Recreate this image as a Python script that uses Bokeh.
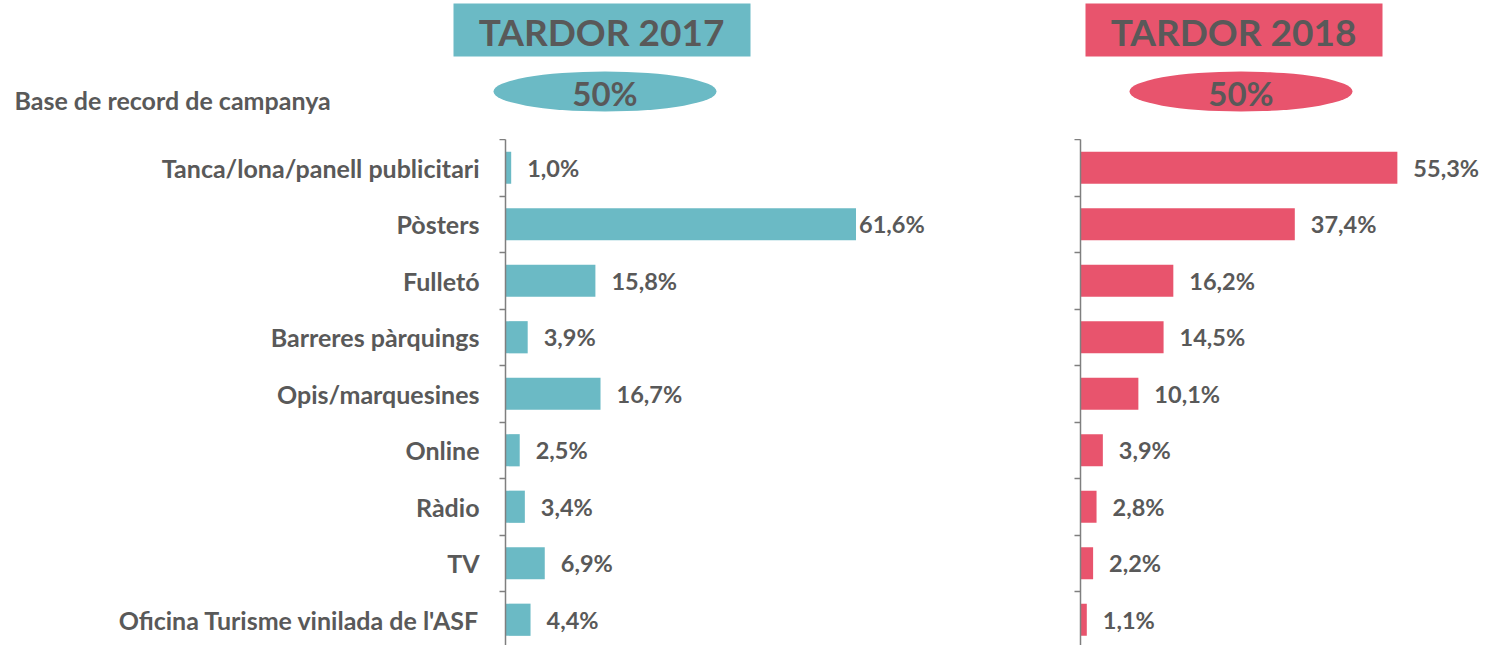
from bokeh.plotting import figure
from bokeh.layouts import column, row
from bokeh.models import ColumnDataSource, Range1d, FixedTicker
from bokeh.core.properties import value
from bokeh.embed import file_html
from bokeh.resources import INLINE

# ---------------- data ----------------
categories = [
    "Tanca/lona/panell publicitari",
    "Pòsters",
    "Fulletó",
    "Barreres pàrquings",
    "Opis/marquesines",
    "Online",
    "Ràdio",
    "TV",
    "Oficina Turisme vinilada de l'ASF",
]
values_2017 = [1.0, 61.6, 15.8, 3.9, 16.7, 2.5, 3.4, 6.9, 4.4]
values_2018 = [55.3, 37.4, 16.2, 14.5, 10.1, 3.9, 2.8, 2.2, 1.1]
panel_titles = ["TARDOR 2017", "TARDOR 2018"]
base_values = [50, 50]
base_label = "Base de record de campanya"

# ---------------- style ----------------
TEAL = "#6BBAC5"
PINK = "#E8546D"
TEXT = "#595959"
AXIS = "#7F7F7F"
FONT = "Lato"
TOTAL_W = 1487
TOTAL_H = 645
HDR_H = 139
CHART_H = TOTAL_H - HDR_H
BAND_PX = 56.5
# label offsets in px (Excel pulled the longest label back in)
dx_2017 = [16, 3, 16, 16, 16, 16, 16, 16, 16]
dx_2018 = [16] * 9


def fmt(v):
    return f"{v:.1f}".replace(".", ",") + "%"


# ---------------- header ----------------
hdr = figure(width=TOTAL_W, height=HDR_H, x_range=Range1d(0, TOTAL_W), y_range=Range1d(HDR_H, 0),
             output_backend="svg", toolbar_location=None, min_border=0,
             x_axis_location=None, y_axis_location=None, outline_line_color=None)
hdr.grid.visible = False
hdr.quad(left=[453, 1085], right=[750, 1382], top=[3, 3], bottom=[56, 56],
         fill_color=[TEAL, PINK], line_color=None)
hdr.text(x=[601, 1233], y=[31, 31], text=panel_titles, text_align="center",
         text_baseline="middle", text_font=value(FONT), text_font_style="bold",
         text_font_size="37px", text_color=TEXT)
hdr.ellipse(x=[604.5, 1240.5], y=[91, 91], width=223, height=40,
            fill_color=[TEAL, PINK], line_color=None)
hdr.text(x=[604.5, 1240.5], y=[92, 92], text=[f"{b}%" for b in base_values],
         text_align="center", text_baseline="middle", text_font=value(FONT),
         text_font_style="bold", text_font_size="33px", text_color=TEXT)
hdr.text(x=[14], y=[99], text=[base_label], text_align="left", text_baseline="middle",
         text_font=value(FONT), text_font_style="bold", text_font_size="25px",
         text_color=TEXT)


# ---------------- panels ----------------
def make_panel(vals, color, fig_width, border_left, px_per_unit, show_labels, dx):
    n = len(categories)
    frame_w = fig_width - border_left
    src = ColumnDataSource(dict(y=list(range(n)), v=vals, lbl=[fmt(v) for v in vals], dx=dx))
    p = figure(width=fig_width, height=CHART_H,
               x_range=Range1d(0, frame_w / px_per_unit),
               y_range=Range1d(-0.5 + CHART_H / BAND_PX, -0.5),
               output_backend="svg", toolbar_location=None,
               min_border_left=border_left, min_border_right=0,
               min_border_top=0, min_border_bottom=0,
               x_axis_location=None, outline_line_color=None)
    p.grid.visible = False
    p.hbar(y="y", right="v", left=0, height=0.57, source=src,
           fill_color=color, line_color=None)
    p.text(x="v", y="y", text="lbl", x_offset="dx", source=src, text_align="left",
           text_baseline="middle", text_font=value(FONT), text_font_style="bold",
           text_font_size="23.5px", text_color=TEXT)
    ax = p.yaxis[0]
    ax.ticker = FixedTicker(ticks=list(range(n)) if show_labels else [],
                            minor_ticks=[i - 0.5 for i in range(n + 1)])
    ax.major_tick_line_color = None
    ax.major_tick_out = 0
    ax.major_tick_in = 0
    ax.minor_tick_out = 6
    ax.minor_tick_in = 0
    ax.minor_tick_line_color = AXIS
    ax.minor_tick_line_width = 1.5
    ax.axis_line_color = AXIS
    ax.axis_line_width = 1.5
    ax.major_label_standoff = 20
    if show_labels:
        ax.major_label_overrides = {i: c for i, c in enumerate(categories)}
    ax.major_label_text_font = FONT
    ax.major_label_text_font_style = "bold"
    ax.major_label_text_font_size = "25px"
    ax.major_label_text_color = TEXT
    return p


left = make_panel(values_2017, TEAL, 1070, 505, 5.69, True, dx_2017)
right = make_panel(values_2018, PINK, TOTAL_W - 1070, 10, 5.73, False, dx_2018)

layout = column(hdr, row(left, right))
open("out.html", "w").write(file_html(layout, INLINE))
